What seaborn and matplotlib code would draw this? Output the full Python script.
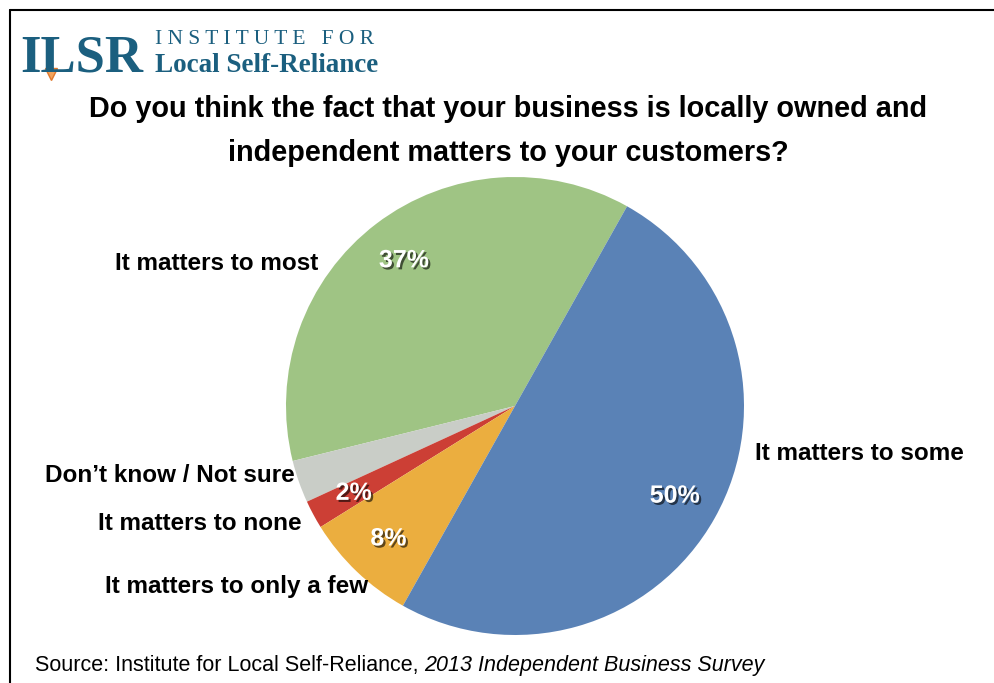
import matplotlib
matplotlib.use("Agg")
import matplotlib.pyplot as plt
import matplotlib.patheffects as pe
import numpy as np
import seaborn as sns

# Survey answers (counterclockwise from the green/blue boundary)
categories = ["It matters to most", "Don\u2019t know / Not sure", "It matters to none",
              "It matters to only a few", "It matters to some"]
shares = [37, 3, 2, 8, 50]
pct_labels = ["37%", "", "2%", "8%", "50%"]
colors = ["#9fc484", "#c9cdc7", "#cc3f35", "#ebae3f", "#5a82b6"]

title = ("Do you think the fact that your business is locally owned and\n"
         "independent matters to your customers?")

sns.set_theme(style="white")
plt.rcParams["font.family"] = ["Liberation Sans", "DejaVu Sans"]

W, H = 994, 683
fig = plt.figure(figsize=(W / 100, H / 100), dpi=100)

def fx(x):
    return x / W

def fy(y):
    return 1 - y / H

# pie axes: centre (515, 406) px, radius 229 px
r = 229
ax = fig.add_axes([fx(515 - r), fy(406 + r), 2 * r / W, 2 * r / H])
wedges, _ = ax.pie(shares, colors=colors, startangle=60.7, counterclock=True,
                   radius=1, wedgeprops=dict(linewidth=0))
ax.set_xlim(-1, 1)
ax.set_ylim(-1, 1)
ax.set_aspect("auto")
ax.axis("off")

shadow = [pe.SimplePatchShadow(offset=(1.5, -1.5), shadow_rgbFace="black", alpha=0.6),
          pe.Normal()]
for w, lab in zip(wedges, pct_labels):
    if not lab:
        continue
    mid = np.deg2rad((w.theta1 + w.theta2) / 2)
    ax.text(0.8 * np.cos(mid), 0.8 * np.sin(mid), lab, ha="center", va="center",
            color="white", fontsize=18, fontweight="bold", path_effects=shadow)

# category labels (pixel positions of label anchors)
label_pos = {
    "It matters to most": (318, 263, "right"),
    "Don\u2019t know / Not sure": (295, 475, "right"),
    "It matters to none": (302, 523, "right"),
    "It matters to only a few": (368, 586, "right"),
    "It matters to some": (755, 454, "left"),
}
for cat in categories:
    x, y, ha = label_pos[cat]
    fig.text(fx(x), fy(y), cat, ha=ha, va="center", fontsize=17.5,
             fontweight="bold", color="black")

fig.text(fx(508), fy(131), title, ha="center", va="center", fontsize=20.8,
         fontweight="bold", color="black", linespacing=1.75)

# logo
teal = "#1b5f7f"
fig.text(fx(20), fy(72), "ILSR", ha="left", va="baseline", fontsize=38,
         fontweight="bold", color=teal, family="Liberation Serif")
fig.lines.append(plt.Line2D([fx(51)], [fy(74)], marker="v", markersize=8,
                            markerfacecolor="#f3a45c", markeredgecolor="#e0782c",
                            transform=fig.transFigure))
fig.text(fx(155), fy(44), "I N S T I T U T E   F O R", ha="left", va="baseline",
         fontsize=15.5, color=teal, family="Liberation Serif")
fig.text(fx(155), fy(72), "Local Self-Reliance", ha="left", va="baseline",
         fontsize=19.5, fontweight="bold", color=teal, family="Liberation Serif")

# source line
src = fig.text(fx(35), fy(665), "Source: Institute for Local Self-Reliance, ",
               ha="left", va="center", fontsize=15.5, color="black")
fig.canvas.draw()
bb = src.get_window_extent()
fig.text(bb.x1 / W, fy(665), "2013 Independent Business Survey", ha="left",
         va="center", fontsize=15.5, style="italic", color="black")

# frame lines (top and left)
fig.lines.append(plt.Line2D([fx(10), 1], [fy(10), fy(10)], color="black",
                            linewidth=1.5, transform=fig.transFigure))
fig.lines.append(plt.Line2D([fx(10), fx(10)], [fy(10), 0], color="black",
                            linewidth=1.5, transform=fig.transFigure))

fig.savefig("out.png", dpi=100, facecolor="white")
